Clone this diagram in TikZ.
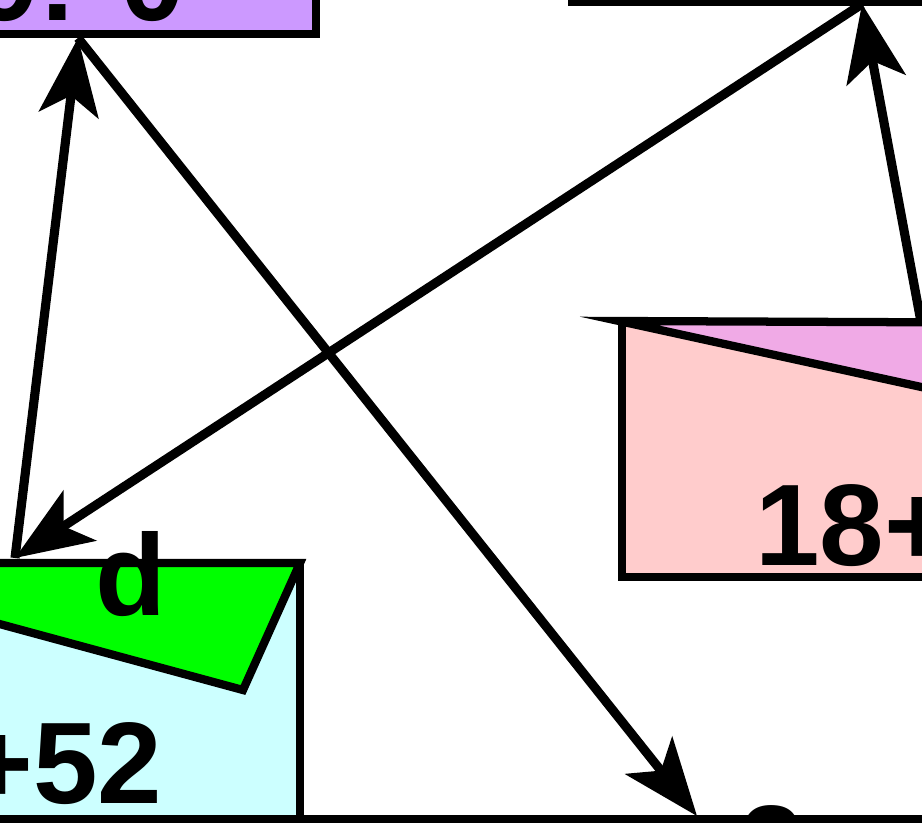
\documentclass[tikz,border=0pt]{standalone}
\usepackage{fontspec}
\setmainfont{Liberation Sans}
\usetikzlibrary{arrows.meta}
\definecolor{lilac}{RGB}{204,153,255}
\definecolor{rose}{RGB}{255,204,204}
\definecolor{mauve}{RGB}{240,170,230}
\definecolor{icecyan}{RGB}{204,255,255}
\definecolor{limegreen}{RGB}{0,255,0}

\begin{document}
\begin{tikzpicture}[
    x=0.02cm, y=-0.02cm,
    box/.style={draw, line width=4.7pt, line join=miter},
    link/.style={line width=5.2pt, -{Stealth[length=44pt, width=34pt, inset=11pt]}},
    lbl/.style={font=\fontsize{66}{70}\selectfont\bfseries, inner sep=0pt, anchor=base west}
]
\useasboundingbox (0,0) rectangle (922,822);
\clip (0,0) rectangle (922,822);

% Boxes
\filldraw[box, fill=lilac] (-200,-200) rectangle (316,34);
\filldraw[box, fill=white] (572,-200) rectangle (1100,2);
\filldraw[box, fill=rose] (622,323) rectangle (1100,577);
\filldraw[box, fill=mauve] (619,321) -- (1100,323) -- (1100,426) -- cycle;
\filldraw[box, fill=icecyan] (-200,563) rectangle (300,819);
\filldraw[box, fill=limegreen] (-100,563) -- (300,563) -- (243,690) -- (-100,597) -- cycle;
\filldraw[box, fill=white] (300,819) rectangle (1100,1100);
\draw[box] (300,819) -- (1100,980);

% Labels
\node[lbl] (lbllilac) at (-26,20) {9: 0};
\node[lbl] (lblrose) at (755,565) {18+};
\node[lbl] (lblcyan) at (-35,803) {+52};
\node[lbl] (lbld) at (95,615) {d};
\node[lbl] (lbllow) at (739,886) {2};

% Ports
\coordinate (cyantop) at (15,558);
\coordinate (lilacfoot) at (78,38);
\coordinate (topfoot) at (862,4);
\coordinate (rosetop) at (921,322);
\coordinate (lowtop) at (697,816);

% Arrows
\draw[link] (cyantop) -- (lilacfoot);
\draw[link] (lilacfoot) -- (lowtop);
\draw[link] (topfoot) -- (cyantop);
\draw[link] (rosetop) -- (topfoot);

\end{tikzpicture}
\end{document}
